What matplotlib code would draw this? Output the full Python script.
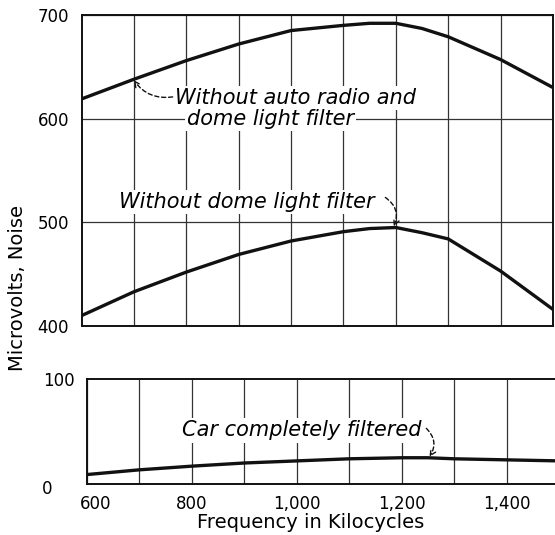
import matplotlib
matplotlib.use("Agg")
import matplotlib.pyplot as plt
from matplotlib.transforms import ScaledTranslation

# ---- data ----
freq = [600, 700, 800, 900, 1000, 1100, 1150, 1200, 1250, 1300, 1400, 1500]
no_auto_no_dome = [619, 638, 656, 672, 685, 690, 692, 692, 687, 679, 657, 630]
no_dome = [410, 433, 452, 469, 482, 491, 494, 495, 490, 484, 453, 416]
filtered = [9, 13.5, 17, 20, 22, 24, 24.5, 25, 25, 24, 23, 22]

top_yticks = [400, 500, 600, 700]
bot_yticks = [0, 100]
xticks_major = [600, 800, 1000, 1200, 1400]
xtick_labels = ["600", "800", "1,000", "1,200", "1,400"]
grid_x = [700, 800, 900, 1000, 1100, 1200, 1300, 1400]

W, H = 555, 535
fig = plt.figure(figsize=(W / 100, H / 100), dpi=100)
plt.rcParams['font.family'] = ['DejaVu Sans']

def px_axes(l, r, t, b):
    return fig.add_axes([l / W, 1 - b / H, (r - l) / W, (b - t) / H])

ink = '#111111'
grid_c = '#333333'

# ---- top panel ----
ax1 = px_axes(81.5, 553, 15, 326)
ax1.set_xlim(600, 1500)
ax1.set_ylim(400, 700)
ax1.plot(freq, no_auto_no_dome, color=ink, lw=2.4, solid_capstyle='butt', zorder=3)
ax1.plot(freq, no_dome, color=ink, lw=2.4, solid_capstyle='butt', zorder=3)
ax1.set_xticks(grid_x)
ax1.set_xticklabels([])
ax1.set_yticks(top_yticks)
ax1.set_yticklabels([str(v) for v in top_yticks], fontsize=12)
ax1.tick_params(length=0, pad=9)
ax1.grid(True, color=grid_c, lw=0.9)
for s in ax1.spines.values():
    s.set_linewidth(1.4)
    s.set_color(ink)

# ---- bottom panel ----
ax2 = px_axes(87, 559, 379, 484)
ax2.set_xlim(600, 1500)
ax2.set_ylim(0, 100)
ax2.plot(freq, filtered, color=ink, lw=2.4, solid_capstyle='butt', zorder=3)
ax2.set_xticks(xticks_major)
ax2.set_xticklabels(xtick_labels, fontsize=12)
ax2.set_xticks(grid_x, minor=True)
ax2.set_yticks(bot_yticks)
ax2.set_yticklabels([str(v) for v in bot_yticks], fontsize=12)
ax2.tick_params(which='both', length=0)
ax2.tick_params(axis='y', pad=9)
ax2.tick_params(axis='x', pad=8)
ax2.grid(True, axis='x', which='both', color=grid_c, lw=0.9)
for s in ax2.spines.values():
    s.set_linewidth(1.4)
    s.set_color(ink)

# shift the "600" x label right, and the "0" y label down/left
lab600 = ax2.get_xticklabels()[0]
lab600.set_transform(lab600.get_transform() + ScaledTranslation(9 / 100, 0, fig.dpi_scale_trans))
lab0 = ax2.get_yticklabels()[0]
lab0.set_transform(lab0.get_transform() + ScaledTranslation(-22 / 100, -3 / 100, fig.dpi_scale_trans))

# ---- annotations ----
bb = dict(facecolor='white', edgecolor='none', pad=1.5)
afs = 15
ax1.text(778, 620, "Without auto radio and", fontsize=afs, style='italic',
         ha='left', va='center', bbox=bb, zorder=4)
ax1.text(801, 600, "dome light filter", fontsize=afs, style='italic',
         ha='left', va='center', bbox=bb, zorder=4)
ax1.annotate('', xy=(700, 637), xytext=(774, 621),
             arrowprops=dict(arrowstyle='->', color=ink, lw=1.0, linestyle=(0, (3, 2)),
                             connectionstyle='arc3,rad=-0.3', shrinkA=0, shrinkB=0), zorder=5)

ax1.text(672, 520, "Without dome light filter", fontsize=afs, style='italic',
         ha='left', va='center', bbox=bb, zorder=4)
ax1.annotate('', xy=(1196, 496), xytext=(1180, 524),
             arrowprops=dict(arrowstyle='->', color=ink, lw=1.0, linestyle=(0, (3, 2)),
                             connectionstyle='arc3,rad=-0.4', shrinkA=0, shrinkB=0), zorder=5)

ax2.text(781, 51, "Car completely filtered", fontsize=afs, style='italic',
         ha='left', va='center', bbox=bb, zorder=4)
ax2.annotate('', xy=(1253, 26), xytext=(1247, 53),
             arrowprops=dict(arrowstyle='->', color=ink, lw=1.0, linestyle=(0, (3, 2)),
                             connectionstyle='arc3,rad=-0.4', shrinkA=0, shrinkB=0), zorder=5)

# ---- axis titles ----
fig.text(18 / W, 1 - 288 / H, "Microvolts, Noise", rotation=90, fontsize=14,
         ha='center', va='center')
fig.text(311 / W, 1 - 523 / H, "Frequency in Kilocycles", fontsize=14,
         ha='center', va='center')

fig.savefig("out.png", dpi=100, facecolor='white')
